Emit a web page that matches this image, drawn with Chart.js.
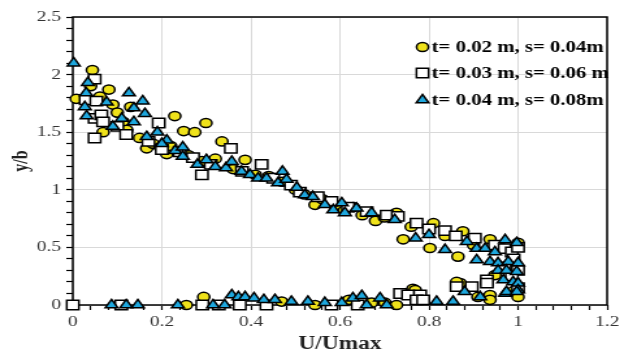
<!DOCTYPE html>
<html>
<head>
<meta charset="utf-8">
<title>U/Umax vs y/b</title>
<script src="https://cdn.jsdelivr.net/npm/chart.js@4.4.0/dist/chart.umd.min.js"></script>
<style>
    html, body { margin: 0; padding: 0; background: #fff; overflow: hidden; }
    /* the plot is drawn narrow and widened, like the original sheet export */
    #wrap { width: 487px; height: 354px; transform: scaleX(1.3); transform-origin: 0 0; }
</style>
</head>
<body>
<div id="wrap"><canvas id="myChart" width="487" height="354"></canvas></div>
<script>
// measured points [U/Umax, y/b]
const circlePts = [
    [0.008, 1.79], [0.040, 1.90], [0.044, 2.04], [0.061, 1.81], [0.081, 1.87], [0.090, 1.74],
    [0.100, 1.67], [0.113, 1.59], [0.068, 1.50], [0.121, 1.52], [0.130, 1.72], [0.150, 1.45],
    [0.166, 1.36], [0.180, 1.40], [0.196, 1.37], [0.211, 1.31], [0.220, 1.38], [0.229, 1.64],
    [0.249, 1.51], [0.260, 1.30], [0.274, 1.50], [0.290, 1.25], [0.299, 1.58], [0.320, 1.27],
    [0.335, 1.42], [0.360, 1.18], [0.387, 1.26], [0.410, 1.13], [0.440, 1.12], [0.470, 1.07],
    [0.500, 1.00], [0.520, 0.96], [0.544, 0.87], [0.560, 0.92], [0.590, 0.86], [0.610, 0.82],
    [0.630, 0.85], [0.650, 0.78], [0.680, 0.73], [0.700, 0.76], [0.727, 0.80], [0.742, 0.57],
    [0.760, 0.68], [0.802, 0.495], [0.810, 0.71], [0.836, 0.60], [0.865, 0.42], [0.876, 0.64],
    [0.900, 0.52], [0.937, 0.57], [0.960, 0.50], [1.000, 0.54], [0.980, 0.33], [0.948, 0.26],
    [0.870, 0.19], [0.862, 0.20], [0.764, 0.14], [0.990, 0.12], [1.000, 0.07], [0.937, 0.087],
    [0.910, 0.07], [0.937, 0.045], [0.255, 0.00], [0.294, 0.07], [0.469, 0.03], [0.544, 0.00],
    [0.620, 0.045], [0.671, 0.02], [0.701, 0.02], [0.727, 0.00], [0.769, 0.13]
];
const squarePts = [
    [0.000, 0.00], [0.049, 1.96], [0.029, 1.78], [0.053, 1.77], [0.049, 1.62], [0.064, 1.65],
    [0.068, 1.59], [0.049, 1.45], [0.100, 1.55], [0.120, 1.48], [0.193, 1.58], [0.170, 1.42],
    [0.200, 1.35], [0.240, 1.33], [0.270, 1.28], [0.290, 1.13], [0.310, 1.22], [0.355, 1.36],
    [0.380, 1.16], [0.424, 1.22], [0.450, 1.10], [0.490, 1.04], [0.510, 0.98], [0.550, 0.94],
    [0.581, 0.90], [0.618, 0.85], [0.660, 0.81], [0.705, 0.78], [0.730, 0.77], [0.772, 0.71],
    [0.800, 0.66], [0.836, 0.645], [0.860, 0.60], [0.903, 0.58], [0.948, 0.52], [0.970, 0.49],
    [0.986, 0.46], [1.000, 0.50], [0.990, 0.40], [1.000, 0.30], [0.970, 0.33], [0.986, 0.25],
    [0.930, 0.217], [0.930, 0.19], [1.000, 0.15], [0.896, 0.16], [0.862, 0.16], [0.735, 0.10],
    [0.753, 0.087], [0.780, 0.087], [0.772, 0.045], [0.787, 0.045], [0.109, 0.00], [0.291, 0.00],
    [0.328, 0.00], [0.375, 0.00], [0.435, 0.00], [0.581, 0.00], [0.640, 0.00]
];
const trianglePts = [
    [0.002, 2.10], [0.034, 1.93], [0.030, 1.84], [0.076, 1.76], [0.027, 1.72], [0.031, 1.64],
    [0.126, 1.84], [0.157, 1.77], [0.137, 1.71], [0.162, 1.66], [0.090, 1.55], [0.110, 1.62],
    [0.137, 1.59], [0.190, 1.50], [0.166, 1.46], [0.211, 1.43], [0.200, 1.40], [0.230, 1.34],
    [0.247, 1.37], [0.247, 1.29], [0.280, 1.22], [0.300, 1.26], [0.320, 1.20], [0.344, 1.19],
    [0.357, 1.245], [0.379, 1.16], [0.398, 1.13], [0.416, 1.10], [0.435, 1.10], [0.461, 1.06],
    [0.471, 1.16], [0.480, 1.09], [0.503, 1.02], [0.521, 0.955], [0.539, 0.94], [0.566, 0.87],
    [0.585, 0.825], [0.604, 0.885], [0.611, 0.80], [0.637, 0.84], [0.671, 0.80], [0.723, 0.74],
    [0.770, 0.58], [0.800, 0.61], [0.836, 0.48], [0.885, 0.55], [0.907, 0.49], [0.926, 0.49],
    [0.948, 0.46], [0.971, 0.565], [0.997, 0.54], [0.907, 0.39], [0.937, 0.375], [0.955, 0.365],
    [0.978, 0.375], [1.000, 0.365], [0.955, 0.30], [0.974, 0.30], [0.997, 0.29], [0.967, 0.217],
    [0.989, 0.20], [1.000, 0.19], [0.971, 0.10], [1.000, 0.13], [0.915, 0.07], [0.880, 0.115],
    [0.974, 0.115], [0.997, 0.115], [0.087, 0.00], [0.120, 0.00], [0.146, 0.00], [0.236, 0.00],
    [0.315, 0.00], [0.341, 0.00], [0.357, 0.087], [0.372, 0.07], [0.387, 0.07], [0.407, 0.06],
    [0.429, 0.045], [0.454, 0.045], [0.491, 0.03], [0.528, 0.03], [0.566, 0.02], [0.604, 0.02],
    [0.629, 0.06], [0.649, 0.08], [0.660, 0.00], [0.690, 0.06], [0.705, 0.00], [0.817, 0.03],
    [0.854, 0.03]
];
const seriesLabels = ['t= 0.02 m, s= 0.04m', 't= 0.03 m, s= 0.06 m', 't= 0.04 m, s= 0.08m'];

const FONT = '"Liberation Serif", "Times New Roman", serif';
const toXY = pts => pts.map(p => ({ x: p[0], y: p[1] }));
const isMajor = (v, step) => Math.abs(v / step - Math.round(v / step)) < 1e-6;
const fmt = v => String(Math.round(v * 10) / 10);

// black box round the plot area
const framePlugin = {
    id: 'frame',
    beforeDatasetsDraw(chart) {
        const { ctx, chartArea: a } = chart;
        ctx.save();
        ctx.strokeStyle = '#000';
        ctx.lineWidth = 1.5;
        ctx.strokeRect(a.left, a.top, a.right - a.left, a.bottom - a.top);
        ctx.restore();
    }
};

// legend stacked inside the top right corner
const legendPlugin = {
    id: 'innerLegend',
    afterDraw(chart) {
        const ctx = chart.ctx;
        const rows = [47, 73, 100];
        ctx.save();
        ctx.font = 'bold 16px ' + FONT;
        ctx.textBaseline = 'middle';
        chart.data.datasets.forEach((ds, i) => {
            const y = rows[i];
            ctx.fillStyle = ds.backgroundColor;
            ctx.strokeStyle = ds.borderColor;
            ctx.lineWidth = ds.borderWidth;
            Chart.helpers.drawPoint(ctx, { pointStyle: ds.pointStyle, radius: ds.pointRadius, rotation: 0, borderWidth: ds.borderWidth }, 325, y);
            ctx.fillStyle = '#000';
            ctx.fillText(ds.label, 332, y + 1);
        });
        ctx.restore();
    }
};

const gridColor = step => ctx => (ctx.tick && isMajor(ctx.tick.value, step)) ? '#d9d9d9' : 'rgba(0,0,0,0)';

new Chart(document.getElementById('myChart'), {
    type: 'scatter',
    data: {
        datasets: [{
            label: seriesLabels[0],
            data: toXY(circlePts),
            pointStyle: 'circle',
            pointRadius: 4.6,
            backgroundColor: '#efe21a',
            borderColor: '#000',
            borderWidth: 1.5,
            clip: false,
            order: 2
        }, {
            label: seriesLabels[1],
            data: toXY(squarePts),
            pointStyle: 'rect',
            pointRadius: 6.6,
            backgroundColor: '#ffffff',
            borderColor: '#000',
            borderWidth: 1.5,
            clip: false,
            order: 1
        }, {
            label: seriesLabels[2],
            data: toXY(trianglePts),
            pointStyle: 'triangle',
            pointRadius: 5.6,
            backgroundColor: '#1ea7dd',
            borderColor: '#000',
            borderWidth: 1.5,
            clip: false,
            order: 0
        }]
    },
    options: {
        responsive: false,
        animation: false,
        events: [],
        layout: { padding: { top: 17, right: 20, left: 0, bottom: 0 } },
        plugins: {
            legend: { display: false },
            tooltip: { enabled: false }
        },
        scales: {
            x: {
                type: 'linear',
                min: 0,
                max: 1.2,
                afterFit(scale) { scale.height = 49; },
                border: { display: false },
                grid: { color: gridColor(0.2), tickColor: '#000', tickLength: 5, lineWidth: 1, tickWidth: 1.2 },
                ticks: {
                    stepSize: 0.04,
                    autoSkip: false,
                    maxRotation: 0,
                    padding: 3,
                    color: '#333',
                    font: { family: FONT, size: 15 },
                    callback: v => isMajor(v, 0.2) ? fmt(v) : ''
                },
                title: {
                    display: true,
                    text: 'U/Umax',
                    color: '#222',
                    font: { family: FONT, size: 18, weight: 'bold', lineHeight: 1.1 },
                    padding: { top: 0, bottom: 0 }
                }
            },
            y: {
                type: 'linear',
                min: 0,
                max: 2.5,
                afterFit(scale) { scale.width = 56; },
                border: { display: false },
                grid: { color: gridColor(0.5), tickColor: '#000', tickLength: 5, lineWidth: 1, tickWidth: 1.2 },
                ticks: {
                    stepSize: 0.1,
                    autoSkip: false,
                    padding: 4,
                    color: '#333',
                    font: { family: FONT, size: 15 },
                    callback: v => isMajor(v, 0.5) ? fmt(v) : ''
                },
                title: {
                    display: true,
                    text: 'y/b',
                    color: '#222',
                    font: { family: FONT, size: 16, weight: 'bold' },
                    padding: { top: 7, bottom: 0 }
                }
            }
        }
    },
    plugins: [framePlugin, legendPlugin]
});
</script>
</body>
</html>
